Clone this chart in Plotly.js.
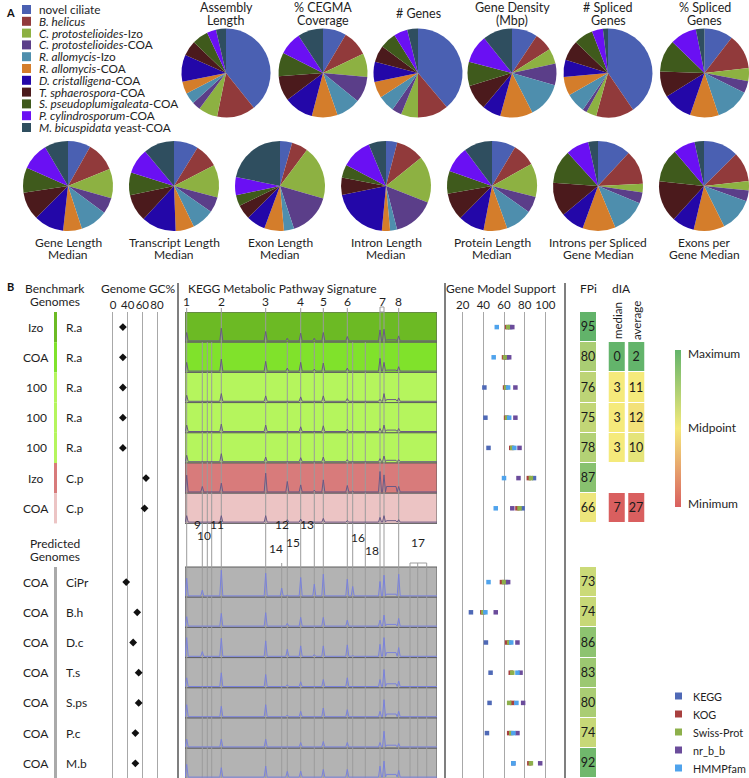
<!DOCTYPE html>
<html><head><meta charset="utf-8">
<script src="https://cdn.plot.ly/plotly-3.0.1.min.js"></script>
<style>body{margin:0;background:#fff}#chart{width:749px;height:778px}</style>
</head><body><div id="chart"></div>
<script>
// ================= DATA =================
// Panel A: genomes, colours, pie shares per metric
const genomes = ['novel ciliate','B. helicus','C. protostelioides-Izo','C. protostelioides-COA','R. allomycis-Izo','R. allomycis-COA','D. cristalligena-COA','T. sphaerospora-COA','S. pseudoplumigaleata-COA','P. cylindrosporum-COA','M. bicuspidata yeast-COA'];
const legendLabels = ['novel ciliate','<i>B. helicus</i>','<i>C. protostelioides</i>-Izo','<i>C. protostelioides</i>-COA','<i>R. allomycis</i>-Izo','<i>R. allomycis</i>-COA','<i>D. cristalligena</i>-COA','<i>T. sphaerospora</i>-COA','<i>S. pseudoplumigaleata</i>-COA','<i>P. cylindrosporum</i>-COA','<i>M. bicuspidata</i> yeast-COA'];
const genomeColors = ['#4a60b2','#913a3b','#8db142','#5b3e89','#4e8ead','#d47d2b','#2307a8','#4b1a1c','#3f5a1c','#6a10f3','#2f4e5f'];

const pieAssembly      = [141,50,25,11,15,16,35,20,21,12,13];
const pieCEGMA         = [30.7,33.8,30.5,34,32,33.6,38.4,32.7,31,30,33.3];
const pieGenes         = [139.8,40.2,22.3,12.7,21.8,21.5,26.5,21.8,21.4,17.9,14.1];
const pieDensity       = [33.6,24,20.2,28.2,46.9,42.5,24.4,33.2,31.5,36.8,38.7];
const pieSpliced       = [145.7,49.7,13.4,5.7,25.7,24.7,22.3,26.6,25.2,14.4,6.6];
const piePctSpliced    = [37.6,45.8,17.2,15.8,45,37.6,39,34,42,34.7,11.3];
const pieGeneLen       = [29.5,38.2,38,20.7,35.6,24.3,38.7,36.4,32.4,35.6,30.6];
const pieTranscriptLen = [31.5,31.2,42.2,20.1,28.9,24,44.7,35.4,29.4,32.8,39.8];
const pieExonLen       = [15.7,21.1,69.2,55.8,13.2,25.3,24.7,18.8,14.2,23.5,78.5];
const pieIntronLen     = [14.5,36.5,60.5,54,9,10.6,72.9,22.4,17.1,39.5,22.5];
const pieProteinLen    = [30.8,30.1,43.3,21,35.1,30.6,33.8,35.3,29.4,33.8,36.8];
const pieIntronsPerGene= [42.9,44.1,11.3,14.3,44.8,42.6,30.3,44,43.5,29.6,12.6];
const pieExonsPerGene  = [45.3,38.2,12.1,14.2,43.6,39.9,28.9,53.8,43.5,28.3,12.2];

const pieTitlesTop = [['Assembly','Length'],['% CEGMA','Coverage'],['# Genes'],['Gene Density','(Mbp)'],['# Spliced','Genes'],['% Spliced','Genes']];
const pieTitlesBottom = [['Gene Length','Median'],['Transcript Length','Median'],['Exon Length','Median'],['Intron Length','Median'],['Protein Length','Median'],['Introns per Spliced','Gene Median'],['Exons per','Gene Median']];

// Panel B: benchmark and predicted genomes
const benchTreat   = ['Izo','COA','100','100','100','Izo','COA'];
const benchSpecies = ['R.a','R.a','R.a','R.a','R.a','C.p','C.p'];
const benchColors  = ['#6cba24','#80e22b','#b5f55d','#b5f55d','#b5f55d','#d87b7b','#ecc4c4'];
const predTreat    = ['COA','COA','COA','COA','COA','COA','COA'];
const predSpecies  = ['CiPr','B.h','D.c','T.s','S.ps','P.c','M.b'];

const benchGC = [33.5,33.5,33.5,33.5,33.5,65,63];
const predGC  = [38,53,47.5,55,55,50.5,50.5];
const gcTicks = [20,40,60,80];
const gcTickText = ['0','40','60','80'];

// KEGG signature: peak heights (px of a 30px lane) at the pathway positions
const keggPeakPos = [1.7,17.3,36.3,80.7,96.7,102.3,115.7,129.3,138.3,162.3,167.7,195,199,213.7];
const keggBench = [
  [9.7,0.5,14,10.7,0.5,4,9,4,9.7,5.7,0.5,12.3,13,6.3],
  [10,1,13.3,11,0.5,4.3,10,3.3,9.3,4.3,0.5,14,10,5.7],
  [7.3,0.5,9,6.7,0.5,1,5.7,1,6.7,4,0.5,3.3,9,4.7],
  [7.7,0.5,8.7,7.7,0.5,1,6,1,7,3.7,0.5,4.3,7.7,4.3],
  [7.7,0.5,9.3,6,0.5,1,5.3,1,6,3.3,0.5,4.3,7,3.3],
  [18,6.7,10,20,1,11.7,8.3,3,13.3,7.7,2,21.7,18.3,6.7],
  [7.7,1,7.7,7.7,0.5,3.7,4.3,1,5,2.7,0.5,6,7.7,3.7]];
const keggBenchPlateau = [2.3,2.3,3,2.7,2.7,6.7,2.7];
const keggPred = [
  [19,7,27,24,9,2,19.7,13,23,18,10.7,15.7,22,23],
  [10.7,1,14,14.7,1,4,10,2,10,7.3,1,7.3,12.3,9],
  [20,6,19.3,16.7,1,8.3,11.7,3,11.7,12.7,2,13.3,20,10],
  [10,1.5,15,13.3,1,3,6,2,8.3,10,1.5,8.3,18.3,6.7],
  [13.3,1.5,11.7,13.3,1,3,6.7,2,10,8.3,1.5,6.7,18.3,6.7],
  [9,1,9,9,1,2,5.7,1.5,6.7,5.7,1,5.7,17,4.7],
  [14,1.5,10.7,12.3,1,7,7.3,2,9,9,1.5,12.3,17.3,8]];
const keggPredPlateau = [3,3,5,4,4,3,4];
const keggTopLabels = ['1','2','3','4','5','6','7','8'];
const keggTopLabelPos = [1.7,36.3,80.7,115.7,138.3,162.3,197,213.7];
const keggFullLines = [1.7,36.3,80.7,115.7,138.3,162.3,195,199,213.7];
const keggSubLines  = [17.3,22.3,26.7,102.3,129.3,167.7,180.3];
const keggMidLabels = ['9','10','11','12','13','14','15','16','18','17'];
const keggMidLabelX = [12,19,32,97,122,91,108,173,187,233];
const keggMidLabelYpx = [534,545,534,534,534,558,552,547,560,552];

// Gene model support (% of genes)
const gmsNames  = ['KEGG','KOG','Swiss-Prot','nr_b_b','HMMPfam'];
const gmsColors = ['#4f69b6','#a8403f','#8db04b','#6b4c9b','#4fa3ec'];
const gmsKEGGBench  = [66,63,41,42,45,89,78];
const gmsKOGBench   = [63,60,61,62,67,84,73];
const gmsSwissBench = [64,61,62,63,68,86,75];
const gmsNrBench    = [68,65,71,71,75,74,68];
const gmsHMMBench   = [53,50,64,65,70,60,52];
const gmsKEGGPred   = [62,28,42.5,47,46,43.5,69];
const gmsKOGPred    = [58,39,63,66.5,68,65,84.5];
const gmsSwissPred  = [60,40,65,68,65,67,86];
const gmsNrPred     = [64,52,73,76,78.5,73,95];
const gmsHMMPred    = [45,42,67,73,72,69,69];
const gmsTicks = [20,40,60,80,100];

// FPi and dIA
const fpiBench = [95,80,76,75,78,87,66];
const fpiPred  = [73,74,86,83,80,74,92];
const diaMedian  = [null,0,3,3,3,null,7];
const diaAverage = [null,2,11,12,10,null,27];

// ================= LAYOUT HELPERS =================
const W = 749, H = 778;
const X = px => px / W;
const Y = px => 1 - px / H;
const FONT = 'Lato, "Open Sans", sans-serif';
const TXT = '#1e1e1e';
const FS = 12;
const yTopPx = 312, rowPx = 30.2;
const predOffset = (567 - yTopPx) / rowPx;
const yMax = (H - yTopPx) / rowPx;
const benchY = benchTreat.map((_, i) => i + 0.5);
const predY = predTreat.map((_, j) => predOffset + j + 0.5);

const traces = [];
const shapes = [];
const annotations = [];
function ann(text, x, y, o = {}) {
  annotations.push(Object.assign({text, x: X(x), y: Y(y), xref: 'paper', yref: 'paper', showarrow: false,
    xanchor: 'center', yanchor: 'middle', font: {family: FONT, size: FS, color: TXT}}, o));
}
function ann2(lines, x, yFirst, gap, o = {}) { lines.forEach((l, k) => ann(l, x, yFirst + k * gap, o)); }

// ================= PANEL A =================
ann('<b>A</b>', 10, 12, {font: {family: FONT, size: 11, color: '#111'}});
legendLabels.forEach((lab, i) => {
  const cy = 9.5 + i * 11.8;
  shapes.push({type: 'rect', xref: 'paper', yref: 'paper', x0: X(22), x1: X(31), y0: Y(cy - 4.5), y1: Y(cy + 4.5),
    fillcolor: genomeColors[i], line: {width: 0}});
  ann(lab, 37, cy, {xanchor: 'left', font: {family: FONT, size: 11.8, color: TXT}});
});

const pieTop = [pieAssembly, pieCEGMA, pieGenes, pieDensity, pieSpliced, piePctSpliced];
const pieBottom = [pieGeneLen, pieTranscriptLen, pieExonLen, pieIntronLen, pieProteinLen, pieIntronsPerGene, pieExonsPerGene];
const topCx = [226, 323, 418, 512, 608, 704.5];
const botCx = [68, 174, 280, 386, 492, 598, 704];
function addPie(vals, cx, cy, r) {
  traces.push({type: 'pie', values: vals, labels: genomes, sort: false, direction: 'clockwise', rotation: 0,
    marker: {colors: genomeColors, line: {width: 0}}, textinfo: 'none', hoverinfo: 'none', showlegend: false,
    domain: {x: [X(cx - r), X(cx + r)], y: [Y(cy + r), Y(cy - r)]}});
}
pieTop.forEach((v, i) => { addPie(v, topCx[i], 73, 44.5); ann2(pieTitlesTop[i], topCx[i], pieTitlesTop[i].length === 1 ? 14 : 7.5, 12.5, {font: {family: FONT, size: 12.5, color: TXT}}); });
pieBottom.forEach((v, i) => { addPie(v, botCx[i], 186, 45); ann2(pieTitlesBottom[i], botCx[i], 242, 13, {font: {family: FONT, size: 12, color: TXT}}); });

// ================= PANEL B =================
ann('<b>B</b>', 10, 286, {font: {family: FONT, size: 11, color: '#111'}});
ann2(['Benchmark', 'Genomes'], 55, 288, 13);
ann2(['Predicted', 'Genomes'], 55, 543, 13);
ann('Genome GC%', 138, 288);
ann('KEGG Metabolic Pathway Signature', 186, 288, {xanchor: 'left'});
ann('Gene Model Support', 501, 288);
ann('FPi', 588, 288);
ann('dIA', 621, 288);
ann('median', 617, 321, {textangle: -90, font: {family: FONT, size: 11.5, color: TXT}});
ann('average', 636, 321, {textangle: -90, font: {family: FONT, size: 11.5, color: TXT}});

// row labels
function rowLabels(treat, species, ys) {
  treat.forEach((t, i) => {
    annotations.push({text: t, x: X(36), y: ys[i], xref: 'paper', yref: 'y', xanchor: 'center', showarrow: false, font: {family: FONT, size: FS, color: TXT}});
    annotations.push({text: species[i], x: X(64), y: ys[i], xref: 'paper', yref: 'y', xanchor: 'left', showarrow: false, font: {family: FONT, size: FS, color: TXT}});
  });
}
rowLabels(benchTreat, benchSpecies, benchY);
rowLabels(predTreat, predSpecies, predY);
benchColors.forEach((c, i) => shapes.push({type: 'rect', xref: 'paper', yref: 'y', x0: X(54), x1: X(57), y0: i, y1: i + 1, fillcolor: c, line: {width: 0}}));
shapes.push({type: 'rect', xref: 'paper', yref: 'y', x0: X(54), x1: X(57), y0: predOffset, y1: predOffset + 7, fillcolor: '#aaaaaa', line: {width: 0}});

// section separators
[178, 445, 565].forEach(px => shapes.push({type: 'line', xref: 'paper', yref: 'paper', x0: X(px), x1: X(px), y0: Y(283), y1: 0, line: {color: '#555', width: 1.5}}));

// GC%
traces.push({type: 'scatter', mode: 'markers', x: benchGC.concat(predGC), y: benchY.concat(predY), xaxis: 'x', yaxis: 'y',
  marker: {symbol: 'diamond', size: 6, color: '#111'}, hoverinfo: 'none', showlegend: false});

// KEGG backgrounds
benchColors.forEach((c, i) => shapes.push({type: 'rect', xref: 'x2', yref: 'y', x0: 0, x1: 252, y0: i, y1: i + 1, fillcolor: c, line: {color: '#5e5e5e', width: 1}, layer: 'below'}));
predSpecies.forEach((_, j) => shapes.push({type: 'rect', xref: 'x2', yref: 'y', x0: 0, x1: 252, y0: predOffset + j, y1: predOffset + j + 1, fillcolor: '#b3b3b3', line: {color: '#5e5e5e', width: 1}, layer: 'below'}));
// KEGG vertical guide lines
const vline = (x, y0, y1) => shapes.push({type: 'line', xref: 'x2', yref: 'y', x0: x, x1: x, y0, y1, line: {color: '#9c9c9c', width: 1}, layer: 'below'});
keggFullLines.forEach(x => vline(x, 0, yMax));
keggSubLines.forEach(x => vline(x, 1, yMax));
vline(96.7, (563 - yTopPx) / rowPx, yMax);
const br = (563 - yTopPx) / rowPx;
[225, 232.7, 241.7].forEach(x => vline(x, br, yMax));
shapes.push({type: 'line', xref: 'x2', yref: 'y', x0: 225, x1: 241.7, y0: br, y1: br, line: {color: '#9c9c9c', width: 1}, layer: 'below'});
shapes.push({type: 'rect', xref: 'x2', yref: 'paper', x0: 195, x1: 199, y0: Y(312), y1: Y(307), line: {color: '#9c9c9c', width: 1}});
keggFullLines.filter(x => x !== 195 && x !== 199).forEach(x => shapes.push({type: 'line', xref: 'x2', yref: 'paper', x0: x, x1: x, y0: Y(312), y1: Y(308), line: {color: '#9c9c9c', width: 1}}));
keggTopLabels.forEach((t, i) => annotations.push({text: t, x: keggTopLabelPos[i], y: Y(302), xref: 'x2', yref: 'paper', showarrow: false, font: {family: FONT, size: FS, color: TXT}}));
keggMidLabels.forEach((t, i) => annotations.push({text: t, x: keggMidLabelX[i], y: Y(keggMidLabelYpx[i]), xref: 'x2', yref: 'paper', showarrow: false, font: {family: FONT, size: FS, color: TXT}}));

// KEGG signal lines
const base = 1.3;
function signal(h, plat, rowTop, color) {
  const pts = [[0, base], [252, base], [201.5, plat], [211, plat]];
  keggPeakPos.forEach((p, k) => pts.push([p - 1.5, base], [p, Math.max(h[k], base)], [p + 1.5, base]));
  pts.sort((a, b) => a[0] - b[0]);
  traces.push({type: 'scatter', mode: 'lines', x: pts.map(q => q[0]), y: pts.map(q => rowTop + 1 - q[1] / rowPx),
    xaxis: 'x2', yaxis: 'y', line: {color, width: 1}, hoverinfo: 'none', showlegend: false});
}
keggBench.forEach((h, i) => signal(h, keggBenchPlateau[i], i, '#6a5a86'));
keggPred.forEach((h, j) => signal(h, keggPredPlateau[j], predOffset + j, '#7a82dc'));

// Gene model support
const gmsBench = [gmsKEGGBench, gmsKOGBench, gmsSwissBench, gmsNrBench, gmsHMMBench];
const gmsPred  = [gmsKEGGPred, gmsKOGPred, gmsSwissPred, gmsNrPred, gmsHMMPred];
gmsNames.forEach((n, k) => traces.push({type: 'scatter', mode: 'markers', name: n, x: gmsBench[k].concat(gmsPred[k]), y: benchY.concat(predY),
  xaxis: 'x3', yaxis: 'y', marker: {symbol: 'square', size: 4.5, color: gmsColors[k]}, hoverinfo: 'none', showlegend: false}));
// legend for gene model support
gmsNames.forEach((n, k) => {
  const cy = 696 + k * 18;
  shapes.push({type: 'rect', xref: 'paper', yref: 'paper', x0: X(675), x1: X(682), y0: Y(cy + 3.5), y1: Y(cy - 3.5), fillcolor: gmsColors[k], line: {width: 0}});
  ann(n, 691, cy, {xanchor: 'left', font: {family: FONT, size: 10.8, color: TXT}});
});

// FPi and dIA cells
const fpiScale = [[0, '#ede67c'], [1, '#62b36a']];
const cellText = {family: FONT, size: 12.5, color: '#1a1a1a'};
function cellCol(z, xc, w, y0, scale, zmin, zmax) {
  traces.push({type: 'heatmap', z: z.map(v => [v]), x0: xc, dx: w, y0, dy: 1, xaxis: 'x4', yaxis: 'y', colorscale: scale,
    zmin, zmax, showscale: false, ygap: 1, texttemplate: '%{z}', textfont: cellText, hoverinfo: 'none'});
}
cellCol(fpiBench, 13, 16, 0.5, fpiScale, 66, 95);
cellCol(fpiPred, 13, 16, predOffset + 0.5, fpiScale, 66, 95);
function rygScale(vals) {
  const v = vals.filter(a => a !== null).sort((a, b) => a - b);
  const mid = v[Math.floor(v.length / 2)];
  const f = (mid - v[0]) / (v[v.length - 1] - v[0]);
  return {scale: [[0, '#63b46b'], [f, '#f5ea7b'], [1, '#d95f5f']], min: v[0], max: v[v.length - 1]};
}
const sm = rygScale(diaMedian), sa = rygScale(diaAverage);
cellCol(diaMedian, 41.5, 15.5, 0.5, sm.scale, sm.min, sm.max);
cellCol(diaAverage, 61, 15.5, 0.5, sa.scale, sa.min, sa.max);

// Max/Mid/Min colour key
traces.push({type: 'scatter', mode: 'markers', x: [null], y: [null], xaxis: 'x4', yaxis: 'y', hoverinfo: 'none', showlegend: false,
  marker: {color: [0], cmin: 0, cmax: 1, colorscale: [[0, '#d95f5f'], [0.5, '#f5ea7b'], [1, '#63b46b']], showscale: true,
    colorbar: {thickness: 6, len: 157, lenmode: 'pixels', x: X(675), xanchor: 'left', y: Y(350), yanchor: 'top',
      showticklabels: false, ticks: '', outlinewidth: 0, xpad: 0, ypad: 0}}});
ann('Maximum', 686, 354, {xanchor: 'left'});
ann('Midpoint', 686, 427, {xanchor: 'left'});
ann('Minimum', 686, 503, {xanchor: 'left'});

const layout = {
  width: W, height: H, margin: {l: 0, r: 0, t: 0, b: 0}, showlegend: false,
  paper_bgcolor: '#fff', plot_bgcolor: 'rgba(0,0,0,0)', font: {family: FONT, color: TXT},
  xaxis: {domain: [X(98.3), X(171.7)], range: [0, 100], anchor: 'y', side: 'top', tickvals: gcTicks, ticktext: gcTickText, tickangle: 0,
    showgrid: true, gridcolor: '#a8a8a8', zeroline: false, showline: false, ticks: '', tickfont: {family: FONT, size: 11.5, color: TXT}},
  xaxis2: {domain: [X(185), X(437)], range: [0, 252], anchor: 'y', visible: false},
  xaxis3: {domain: [X(445), X(565)], range: [2.9, 119], anchor: 'y', side: 'top', tickvals: gmsTicks, tickangle: 0,
    showgrid: true, gridcolor: '#a8a8a8', zeroline: false, showline: false, ticks: '', tickfont: {family: FONT, size: 11.5, color: TXT}},
  xaxis4: {domain: [X(575), X(650)], range: [0, 75], anchor: 'y', visible: false},
  yaxis: {domain: [0, Y(yTopPx)], range: [yMax, 0], visible: false, anchor: 'x'},
  shapes, annotations
};
Plotly.newPlot('chart', traces, layout, {displayModeBar: false, staticPlot: true});
</script>
</body></html>
